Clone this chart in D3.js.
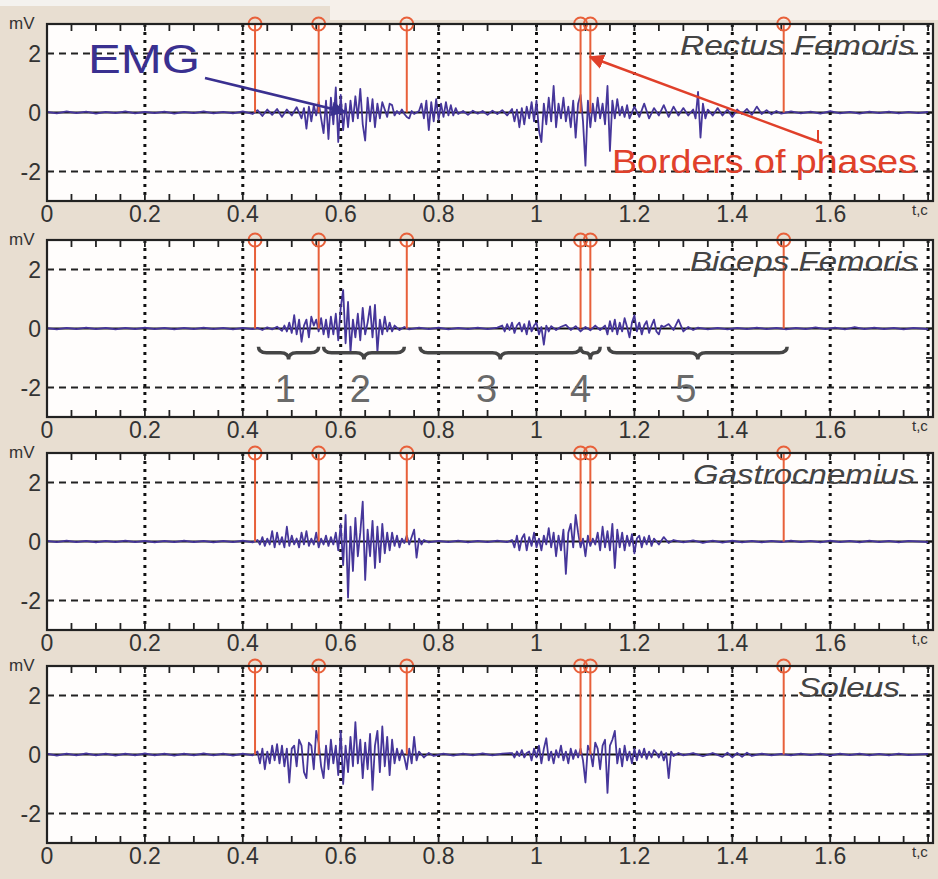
<!DOCTYPE html>
<html lang="en">
  <head>
    <meta charset="UTF-8" />
    <title>EMG phases</title>
    <script src="https://d3js.org/d3.v7.min.js"></script>
    <style>
      body {
        margin: 0;
        background: #e8ded1;
      }
      svg {
        display: block;
        font-family: "Liberation Sans", Arial, sans-serif;
      }
    </style>
  </head>
  <body>
    <div id="chart"></div>
    <script>
      // phase borders (s)
      const phaseBorders = [0.425, 0.555, 0.735, 1.09, 1.11, 1.505];
      const xTicks = [0, 0.2, 0.4, 0.6, 0.8, 1, 1.2, 1.4, 1.6];
      const yTicks = [2, 0, -2];
      const muscles = ["Rectus Femoris", "Biceps  Femoris", "Gastrocnemius", "Soleus"];

      // EMG traces, [t, mV]
      const rectusFemoris = [
        [0, 0.02], [0.02, -0.03], [0.04, 0.04], [0.06, -0.02], [0.08, 0.03], [0.1, -0.04], [0.12, 0.02], [0.14, -0.02],
        [0.16, 0.04], [0.18, -0.03], [0.2, 0.02], [0.22, -0.02], [0.24, 0.03], [0.26, -0.04], [0.28, 0.02], [0.3, -0.02],
        [0.32, 0.04], [0.34, -0.03], [0.36, 0.02], [0.38, -0.03], [0.4, 0.04], [0.42, -0.05],
        [0.43, 0.08], [0.44, -0.12], [0.45, 0.1], [0.46, -0.08], [0.47, 0.12], [0.48, -0.15], [0.49, 0.1], [0.5, -0.1],
        [0.51, 0.18], [0.52, -0.2], [0.525, 0.15], [0.53, -0.55], [0.535, 0.2], [0.54, -0.3], [0.545, 0.25], [0.55, -0.1],
        [0.555, 0.35], [0.56, -0.2], [0.565, -0.7], [0.57, 0.4], [0.575, -0.9], [0.58, 0.5], [0.585, -0.4], [0.59, 0.85],
        [0.595, -1.0], [0.6, 0.6], [0.605, -0.6], [0.61, 0.3], [0.615, -0.5], [0.62, 0.4], [0.625, -0.3], [0.63, 0.55],
        [0.635, -0.2], [0.64, 0.8], [0.645, -0.4], [0.65, -0.95], [0.655, 0.5], [0.66, -0.3], [0.665, 0.45], [0.67, -0.5],
        [0.675, 0.3], [0.68, -0.2], [0.685, 0.35], [0.69, 0.1], [0.695, -0.15], [0.7, 0.3], [0.705, 0.25], [0.71, -0.1],
        [0.715, 0.05], [0.72, -0.05], [0.725, 0.1], [0.73, -0.05], [0.735, -0.15], [0.74, -0.2], [0.745, 0.05], [0.75, -0.05],
        [0.76, 0.05], [0.765, 0.3], [0.77, -0.2], [0.775, 0.4], [0.78, -0.6], [0.785, 0.35], [0.79, -0.3], [0.795, 0.45],
        [0.8, -0.25], [0.805, 0.3], [0.81, -0.15], [0.815, 0.35], [0.82, -0.1], [0.825, 0.25], [0.83, -0.1], [0.835, 0.15],
        [0.84, -0.05], [0.85, 0.05], [0.86, -0.08], [0.87, 0.06], [0.88, -0.04], [0.89, 0.05], [0.9, -0.08], [0.91, 0.06],
        [0.92, -0.05], [0.93, 0.08], [0.94, -0.1], [0.95, 0.12], [0.955, -0.3], [0.96, 0.1], [0.965, -0.5], [0.97, 0.15],
        [0.975, -0.4], [0.98, 0.2], [0.985, -0.2], [0.99, 0.35], [0.995, -0.3], [1.0, 0.4], [1.005, -0.6], [1.01, -1.0],
        [1.015, 0.3], [1.02, -0.4], [1.025, 0.5], [1.03, -0.3], [1.035, 0.9], [1.04, -0.5], [1.045, 0.3], [1.05, -0.2],
        [1.055, 0.5], [1.06, -0.3], [1.065, 0.2], [1.07, -0.5], [1.075, 0.4], [1.08, -0.85], [1.085, 0.3], [1.09, 0.6],
        [1.095, -0.3], [1.1, -1.8], [1.105, 0.4], [1.11, -0.5], [1.115, 0.3], [1.12, -0.3], [1.125, 0.5], [1.13, -0.2],
        [1.135, 0.3], [1.14, -0.4], [1.145, 0.9], [1.15, -1.3], [1.155, 0.4], [1.16, -0.2], [1.165, 0.45], [1.17, -0.1],
        [1.175, 0.2], [1.18, -0.15], [1.185, 0.25], [1.19, -0.2], [1.2, 0.2], [1.21, -0.15], [1.22, 0.3], [1.23, -0.2],
        [1.24, 0.15], [1.25, -0.1], [1.26, 0.25], [1.27, -0.15], [1.28, 0.2], [1.29, -0.1], [1.3, 0.15], [1.31, -0.1],
        [1.32, 0.1], [1.325, -0.2], [1.33, 0.7], [1.335, -0.85], [1.34, 0.3], [1.345, -0.2], [1.35, 0.1], [1.36, -0.1],
        [1.37, 0.15], [1.38, -0.1], [1.39, 0.1], [1.4, -0.15], [1.41, 0.1], [1.42, -0.05], [1.43, 0.12], [1.44, -0.08],
        [1.45, 0.2], [1.46, -0.05], [1.47, 0.08], [1.48, -0.06], [1.49, 0.05], [1.5, -0.04], [1.52, 0.04], [1.54, -0.03],
        [1.56, 0.03], [1.58, -0.04], [1.6, 0.05], [1.62, -0.03], [1.64, 0.02], [1.66, -0.04], [1.68, 0.03], [1.7, -0.02],
        [1.72, 0.03], [1.74, -0.03], [1.76, 0.02], [1.78, -0.02], [1.8, 0.02]
      ];

      const bicepsFemoris = [
        [0, 0.01], [0.02, -0.03], [0.04, 0.02], [0.06, -0.02], [0.08, 0.03], [0.1, -0.02], [0.12, 0.02], [0.14, -0.03],
        [0.16, 0.02], [0.18, -0.02], [0.2, 0.03], [0.22, -0.02], [0.24, 0.02], [0.26, -0.03], [0.28, 0.02], [0.3, -0.02],
        [0.32, 0.03], [0.34, -0.02], [0.36, 0.02], [0.38, -0.03], [0.4, 0.02], [0.42, -0.02],
        [0.43, 0.02], [0.44, -0.05], [0.45, 0.04], [0.46, -0.03], [0.47, 0.06], [0.48, -0.08], [0.485, 0.1], [0.49, -0.1],
        [0.495, 0.2], [0.5, -0.15], [0.505, 0.45], [0.51, -0.2], [0.515, 0.3], [0.52, -0.45], [0.525, 0.1], [0.53, 0.3],
        [0.535, -0.3], [0.54, 0.4], [0.545, 0.1], [0.55, 0.3], [0.555, -0.1], [0.56, 0.35], [0.565, -0.2], [0.57, 0.3],
        [0.575, -0.3], [0.58, 0.4], [0.585, -0.2], [0.59, 0.5], [0.595, -0.4], [0.6, 0.7], [0.605, 1.3], [0.61, -0.5],
        [0.615, 0.9], [0.62, -0.8], [0.625, 0.3], [0.63, -0.3], [0.635, 0.5], [0.64, -0.4], [0.645, 0.7], [0.65, -0.2],
        [0.655, 0.2], [0.66, 0.75], [0.665, -0.3], [0.67, 0.8], [0.675, -0.8], [0.68, 0.3], [0.685, -0.2], [0.69, 0.4],
        [0.695, -0.1], [0.7, 0.2], [0.705, -0.1], [0.71, 0.1], [0.72, -0.05], [0.73, 0.05], [0.74, -0.03], [0.76, 0.03],
        [0.78, -0.02], [0.8, 0.03], [0.82, -0.03], [0.84, 0.02], [0.86, -0.02], [0.88, 0.03], [0.9, -0.02], [0.92, 0.03],
        [0.93, 0.1], [0.935, -0.1], [0.94, 0.15], [0.945, -0.05], [0.95, 0.2], [0.955, -0.15], [0.96, 0.1], [0.965, 0.2],
        [0.97, -0.1], [0.975, 0.15], [0.98, -0.2], [0.985, 0.25], [0.99, -0.1], [0.995, 0.1], [1.0, 0.2], [1.005, -0.2],
        [1.01, 0.05], [1.015, -0.55], [1.02, 0.1], [1.025, -0.1], [1.03, 0.08], [1.04, -0.05], [1.05, 0.06], [1.06, 0.12],
        [1.07, -0.05], [1.08, 0.08], [1.09, -0.1], [1.1, 0.05], [1.11, -0.06], [1.12, 0.1], [1.13, -0.05], [1.14, 0.1],
        [1.145, -0.2], [1.15, 0.25], [1.155, -0.1], [1.16, 0.3], [1.165, -0.2], [1.17, 0.2], [1.175, -0.1], [1.18, 0.35],
        [1.185, 0.05], [1.19, -0.3], [1.195, 0.2], [1.2, 0.45], [1.205, -0.1], [1.21, 0.2], [1.215, -0.2], [1.22, 0.1],
        [1.225, 0.25], [1.23, -0.15], [1.235, 0.1], [1.24, 0.3], [1.245, -0.1], [1.25, -0.2], [1.255, 0.1], [1.26, 0.05],
        [1.27, 0.15], [1.28, -0.05], [1.29, 0.3], [1.295, 0.1], [1.3, -0.1], [1.31, 0.05], [1.32, -0.05], [1.33, 0.03],
        [1.35, -0.03], [1.37, 0.02], [1.39, -0.03], [1.41, 0.02], [1.43, -0.02], [1.45, 0.03], [1.47, -0.02], [1.49, 0.02],
        [1.51, -0.03], [1.53, 0.02], [1.55, -0.02], [1.57, 0.04], [1.59, -0.02], [1.61, 0.03], [1.63, -0.03], [1.65, 0.05],
        [1.67, -0.02], [1.69, 0.03], [1.71, -0.02], [1.73, 0.02], [1.75, -0.03], [1.77, 0.02], [1.8, -0.02]
      ];

      const gastrocnemius = [
        [0, 0.02], [0.02, -0.02], [0.04, 0.03], [0.06, -0.02], [0.08, 0.02], [0.1, -0.03], [0.12, 0.02], [0.14, -0.02],
        [0.16, 0.03], [0.18, -0.02], [0.2, 0.02], [0.22, -0.03], [0.24, 0.02], [0.26, -0.02], [0.28, 0.03], [0.3, -0.02],
        [0.32, 0.02], [0.34, -0.03], [0.36, 0.02], [0.38, -0.02], [0.4, 0.03], [0.42, -0.03],
        [0.43, 0.05], [0.435, -0.1], [0.44, 0.15], [0.445, -0.15], [0.45, 0.1], [0.455, -0.1], [0.46, 0.35], [0.465, -0.2],
        [0.47, 0.3], [0.475, -0.1], [0.48, 0.15], [0.485, -0.2], [0.49, 0.5], [0.495, -0.15], [0.5, 0.2], [0.505, -0.1],
        [0.51, 0.1], [0.515, -0.2], [0.52, 0.3], [0.525, -0.1], [0.53, 0.35], [0.535, -0.15], [0.54, 0.1], [0.545, -0.1],
        [0.55, 0.3], [0.555, -0.2], [0.56, 0.1], [0.565, -0.1], [0.57, 0.2], [0.575, -0.15], [0.58, 0.15], [0.585, -0.1],
        [0.59, 0.3], [0.595, -0.3], [0.6, 0.6], [0.605, -0.8], [0.61, 0.9], [0.615, -1.9], [0.62, 0.5], [0.625, -1.0],
        [0.63, 0.8], [0.635, -0.5], [0.64, 0.3], [0.645, 1.35], [0.65, -1.3], [0.655, 0.4], [0.66, -0.5], [0.665, 0.7],
        [0.67, -0.9], [0.675, 0.5], [0.68, -0.7], [0.685, 0.6], [0.69, -0.4], [0.695, 0.3], [0.7, -0.3], [0.705, 0.3],
        [0.71, -0.15], [0.715, 0.2], [0.72, -0.2], [0.725, 0.1], [0.73, -0.05], [0.735, 0.2], [0.74, -0.1], [0.745, 0.15],
        [0.75, 0.4], [0.755, -0.55], [0.76, 0.1], [0.765, -0.1], [0.77, 0.05], [0.78, -0.03], [0.8, 0.02], [0.82, -0.02],
        [0.84, 0.03], [0.86, -0.03], [0.88, 0.02], [0.9, -0.02], [0.92, 0.03], [0.94, -0.02],
        [0.95, 0.05], [0.955, -0.2], [0.96, 0.2], [0.965, -0.3], [0.97, 0.1], [0.975, 0.25], [0.98, -0.3], [0.985, 0.15],
        [0.99, -0.15], [0.995, 0.3], [1.0, -0.2], [1.005, 0.1], [1.01, -0.3], [1.015, 0.2], [1.02, -0.1], [1.025, 0.45],
        [1.03, -0.2], [1.035, 0.3], [1.04, -0.5], [1.045, 0.2], [1.05, -0.3], [1.055, 0.4], [1.06, -1.1], [1.065, 0.3],
        [1.07, 0.6], [1.075, -0.2], [1.08, 0.9], [1.085, 0.3], [1.09, -0.2], [1.095, 0.1], [1.1, -0.5], [1.105, 0.2],
        [1.11, -0.15], [1.115, 0.1], [1.12, -0.1], [1.125, 0.3], [1.13, -0.3], [1.135, 0.5], [1.14, -0.2], [1.145, 0.35],
        [1.15, -0.3], [1.155, 0.6], [1.16, -0.9], [1.165, 0.4], [1.17, -0.2], [1.175, 0.3], [1.18, -0.3], [1.185, 0.2],
        [1.19, -0.15], [1.195, 0.25], [1.2, -0.4], [1.205, 0.1], [1.21, 0.2], [1.215, -0.2], [1.22, 0.15], [1.225, -0.1],
        [1.23, 0.2], [1.235, -0.15], [1.24, 0.1], [1.25, -0.1], [1.26, 0.15], [1.27, -0.05], [1.28, 0.05], [1.3, -0.03],
        [1.32, 0.04], [1.34, -0.05], [1.36, 0.03], [1.38, -0.04], [1.4, 0.03], [1.42, -0.03], [1.44, 0.02], [1.46, -0.03],
        [1.48, 0.02], [1.5, -0.02], [1.52, 0.03], [1.54, -0.02], [1.56, 0.02], [1.58, -0.03], [1.6, 0.03], [1.62, -0.02],
        [1.64, 0.02], [1.66, -0.03], [1.68, 0.03], [1.7, -0.02], [1.72, 0.02], [1.74, -0.03], [1.76, 0.02], [1.8, -0.02]
      ];

      const soleus = [
        [0, 0.03], [0.02, -0.04], [0.04, 0.03], [0.06, -0.03], [0.08, 0.04], [0.1, -0.03], [0.12, 0.03], [0.14, -0.04],
        [0.16, 0.03], [0.18, -0.03], [0.2, 0.04], [0.22, -0.03], [0.24, 0.03], [0.26, -0.04], [0.28, 0.03], [0.3, -0.03],
        [0.32, 0.04], [0.34, -0.03], [0.36, 0.03], [0.38, -0.04], [0.4, 0.03], [0.42, -0.03],
        [0.43, 0.1], [0.435, -0.3], [0.44, 0.2], [0.445, -0.5], [0.45, 0.1], [0.455, -0.3], [0.46, 0.3], [0.465, -0.2],
        [0.47, 0.35], [0.475, -0.3], [0.48, 0.3], [0.485, -0.4], [0.49, 0.2], [0.495, -0.95], [0.5, 0.2], [0.505, 0.3],
        [0.51, -0.4], [0.515, 0.5], [0.52, 0.3], [0.525, -0.6], [0.53, -0.8], [0.535, 0.4], [0.54, 0.3], [0.545, -0.5],
        [0.55, 0.8], [0.555, 0.4], [0.56, -0.4], [0.565, -0.8], [0.57, 0.3], [0.575, -0.5], [0.58, 0.5], [0.585, -0.3],
        [0.59, 0.3], [0.595, -0.7], [0.6, 0.8], [0.605, -1.0], [0.61, 0.3], [0.615, -0.6], [0.62, 0.6], [0.625, -0.4],
        [0.63, 1.1], [0.635, -0.3], [0.64, 0.5], [0.645, -0.8], [0.65, 0.4], [0.655, -0.5], [0.66, 0.7], [0.665, -1.2],
        [0.67, 0.3], [0.675, 0.8], [0.68, -0.6], [0.685, 0.95], [0.69, -0.4], [0.695, 0.6], [0.7, -0.7], [0.705, 0.5],
        [0.71, -0.3], [0.715, 0.2], [0.72, -0.2], [0.725, 0.15], [0.73, -0.1], [0.735, -0.5], [0.74, 0.2], [0.745, -0.3],
        [0.75, 0.6], [0.755, -0.2], [0.76, 0.1], [0.77, -0.1], [0.78, 0.05], [0.79, -0.05], [0.81, 0.03], [0.83, -0.04],
        [0.85, 0.03], [0.87, -0.03], [0.89, 0.04], [0.91, -0.03], [0.93, 0.03],
        [0.95, 0.05], [0.955, -0.1], [0.96, 0.1], [0.965, -0.05], [0.97, 0.15], [0.975, -0.1], [0.98, 0.05], [0.985, 0.1],
        [0.99, -0.2], [0.995, 0.2], [1.0, -0.1], [1.005, 0.3], [1.01, -0.3], [1.015, 0.2], [1.02, 0.55], [1.025, -0.2],
        [1.03, 0.1], [1.035, -0.3], [1.04, 0.15], [1.045, -0.1], [1.05, 0.3], [1.055, -0.2], [1.06, 0.1], [1.065, -0.3],
        [1.07, 0.2], [1.075, -0.15], [1.08, 0.15], [1.085, -0.1], [1.09, 0.2], [1.095, -0.2], [1.1, -0.95], [1.105, 0.3],
        [1.11, 0.1], [1.115, -0.4], [1.12, 0.4], [1.125, 0.2], [1.13, -0.5], [1.135, 0.3], [1.14, 0.5], [1.145, -1.3],
        [1.15, 0.3], [1.155, 0.5], [1.16, 0.8], [1.165, -0.3], [1.17, 0.2], [1.175, -0.4], [1.18, 0.3], [1.185, -0.2],
        [1.19, 0.1], [1.195, -0.3], [1.2, 0.2], [1.205, -0.2], [1.21, 0.15], [1.215, -0.1], [1.22, 0.2], [1.225, -0.15],
        [1.23, 0.1], [1.235, -0.1], [1.24, 0.15], [1.245, 0.05], [1.25, -0.1], [1.255, 0.1], [1.26, -0.2], [1.265, 0.05],
        [1.27, -0.8], [1.275, 0.1], [1.28, -0.05], [1.29, 0.05], [1.3, -0.03], [1.32, 0.05], [1.34, -0.06], [1.36, 0.05],
        [1.38, -0.08], [1.39, 0.06], [1.4, -0.1], [1.41, 0.05], [1.42, -0.08], [1.43, 0.06], [1.44, -0.05], [1.46, 0.03],
        [1.48, -0.03], [1.5, 0.02], [1.52, -0.03], [1.54, 0.03], [1.56, -0.02], [1.58, 0.03], [1.6, -0.04], [1.62, 0.03],
        [1.64, -0.02], [1.66, 0.03], [1.68, -0.03], [1.7, 0.02], [1.72, -0.03], [1.74, 0.03], [1.76, -0.02], [1.8, 0.02]
      ];

      // phase brackets on the Biceps Femoris panel
      const phaseNames = ["1", "2", "3", "4", "5"];
      const phaseStart = [0.432, 0.565, 0.762, 1.09, 1.147];
      const phaseEnd = [0.555, 0.73, 1.09, 1.13, 1.512];
      const phaseLabelAt = [0.487, 0.64, 0.898, 1.09, 1.305];

      const traces = [rectusFemoris, bicepsFemoris, gastrocnemius, soleus];

      const width = 938;
      const height = 879;
      const panelTop = [24, 240, 453, 666];
      const panelH = 177;
      const left = 47;
      const right = 933;

      const emgColor = "#46369a";
      const borderColor = "#e8603a";

      const svg = d3
        .select("#chart")
        .append("svg")
        .attr("width", width)
        .attr("height", height);

      svg.append("rect").attr("width", width).attr("height", height).attr("fill", "#e8ded1");
      svg.append("rect").attr("width", 330).attr("height", 6).attr("fill", "#f4f2ef");
      svg.append("rect").attr("x", 330).attr("width", 608).attr("height", 20).attr("fill", "#f6f0ea");

      const x = d3.scaleLinear().domain([0, 1.81]).range([left, right]);

      // label box sizes
      const muscleRight = [915, 918, 915, 900];
      const muscleWidth = [235, 228, 222, 102];

      traces.forEach((trace, i) => {
        const top = panelTop[i];
        const y = d3.scaleLinear().domain([-3, 3]).range([top + panelH, top]);
        const g = svg.append("g");

        g.append("rect")
          .attr("x", left)
          .attr("y", top)
          .attr("width", right - left)
          .attr("height", panelH)
          .attr("fill", "#fffdfc");

        // vertical dotted grid
        g.selectAll(".vgrid")
          .data(xTicks.slice(1).concat([1.8]))
          .join("line")
          .attr("x1", (d) => x(d))
          .attr("x2", (d) => x(d))
          .attr("y1", top)
          .attr("y2", top + panelH)
          .attr("stroke", "#111")
          .attr("stroke-width", 3)
          .attr("stroke-dasharray", "3,5");

        // horizontal dashed grid
        g.selectAll(".hgrid")
          .data([2, -2])
          .join("line")
          .attr("x1", left)
          .attr("x2", right)
          .attr("y1", (d) => y(d))
          .attr("y2", (d) => y(d))
          .attr("stroke", "#222")
          .attr("stroke-width", 1.8)
          .attr("stroke-dasharray", "7,5");

        // minor ticks top / bottom
        const minor = d3.range(0, 1.81, 0.05);
        g.selectAll(".tb")
          .data(minor)
          .join("line")
          .attr("x1", (d) => x(d))
          .attr("x2", (d) => x(d))
          .attr("y1", top + panelH)
          .attr("y2", top + panelH - 7)
          .attr("stroke", "#222")
          .attr("stroke-width", 1.8);
        g.selectAll(".tt")
          .data(minor)
          .join("line")
          .attr("x1", (d) => x(d))
          .attr("x2", (d) => x(d))
          .attr("y1", top)
          .attr("y2", top + 7)
          .attr("stroke", "#222")
          .attr("stroke-width", 1.8);
        // side ticks
        g.selectAll(".tr")
          .data([-3, -2, -1, 0, 1, 2, 3])
          .join("line")
          .attr("x1", right)
          .attr("x2", right - 7)
          .attr("y1", (d) => y(d))
          .attr("y2", (d) => y(d))
          .attr("stroke", "#222")
          .attr("stroke-width", 1.8);

        // zero line
        g.append("line")
          .attr("x1", left)
          .attr("x2", right)
          .attr("y1", y(0))
          .attr("y2", y(0))
          .attr("stroke", "#111")
          .attr("stroke-width", 1.8);

        // EMG trace
        g.append("path")
          .datum(trace)
          .attr("fill", "none")
          .attr("stroke", emgColor)
          .attr("stroke-width", 1.8)
          .attr("stroke-linejoin", "round")
          .attr("d", d3.line().x((d) => x(d[0])).y((d) => y(d[1])));

        // phase border stems
        g.selectAll(".stem")
          .data(phaseBorders)
          .join("line")
          .attr("x1", (d) => x(d))
          .attr("x2", (d) => x(d))
          .attr("y1", y(0))
          .attr("y2", y(3))
          .attr("stroke", borderColor)
          .attr("stroke-width", 2);
        g.selectAll(".mark")
          .data(phaseBorders)
          .join("circle")
          .attr("cx", (d) => x(d))
          .attr("cy", y(3))
          .attr("r", 6.5)
          .attr("fill", "none")
          .attr("stroke", borderColor)
          .attr("stroke-width", 2);

        // frame
        g.append("rect")
          .attr("x", left)
          .attr("y", top)
          .attr("width", right - left)
          .attr("height", panelH)
          .attr("fill", "none")
          .attr("stroke", "#222")
          .attr("stroke-width", 2.2);

        // x tick labels
        g.selectAll(".xl")
          .data(xTicks)
          .join("text")
          .attr("x", (d) => x(d))
          .attr("y", top + panelH + 21)
          .attr("text-anchor", "middle")
          .attr("font-size", 23)
          .attr("fill", "#333")
          .text((d) => d3.format("~g")(d));

        g.append("text")
          .attr("x", 912)
          .attr("y", top + panelH + 14)
          .attr("font-size", 15)
          .attr("fill", "#333")
          .text("t,c");

        // y tick labels
        g.selectAll(".yl")
          .data(yTicks)
          .join("text")
          .attr("x", 41)
          .attr("y", (d) => y(d) + 8)
          .attr("text-anchor", "end")
          .attr("font-size", 23)
          .attr("fill", "#333")
          .text((d) => d);

        g.append("text")
          .attr("x", 9)
          .attr("y", top + 5)
          .attr("font-size", 17)
          .attr("fill", "#333")
          .text("mV");

        // muscle name
        g.append("text")
          .attr("x", muscleRight[i] - muscleWidth[i])
          .attr("y", top + 31)
          .attr("font-size", 28)
          .attr("font-style", "italic")
          .attr("fill", "#444")
          .attr("textLength", muscleWidth[i])
          .attr("lengthAdjust", "spacingAndGlyphs")
          .text(muscles[i]);

        if (i === 1) {
          // phase brackets
          const b0 = y(-0.62);
          const b1 = y(-0.82);
          const b2 = y(-1.05);
          phaseStart.forEach((s, k) => {
            const x1 = x(s);
            const x2 = x(phaseEnd[k]);
            const mid = (x1 + x2) / 2;
            const r = Math.min(8, (x2 - x1) / 4);
            const p = d3.path();
            p.moveTo(x1, b0);
            p.quadraticCurveTo(x1, b1, x1 + r, b1);
            p.lineTo(mid - r, b1);
            p.quadraticCurveTo(mid, b1, mid, b2);
            p.quadraticCurveTo(mid, b1, mid + r, b1);
            p.lineTo(x2 - r, b1);
            p.quadraticCurveTo(x2, b1, x2, b0);
            g.append("path")
              .attr("d", p.toString())
              .attr("fill", "none")
              .attr("stroke", "#454545")
              .attr("stroke-width", 3.5);
          });
          g.selectAll(".pl")
            .data(phaseNames)
            .join("text")
            .attr("x", (d, k) => x(phaseLabelAt[k]))
            .attr("y", y(-2) + 14)
            .attr("text-anchor", "middle")
            .attr("font-size", 38)
            .attr("fill", "#6a6a6a")
            .text((d) => d);
        }
      });

      // annotations
      const defs = svg.append("defs");
      [["arrBlue", "#3a3090"], ["arrRed", "#e0402a"]].forEach(([id, c]) => {
        defs.append("marker")
          .attr("id", id)
          .attr("viewBox", "0 0 10 10")
          .attr("refX", 9)
          .attr("refY", 5)
          .attr("markerWidth", 6)
          .attr("markerHeight", 6)
          .attr("orient", "auto")
          .append("path")
          .attr("d", "M0,0 L10,5 L0,10 z")
          .attr("fill", c);
      });

      svg.append("text")
        .attr("x", 88)
        .attr("y", 73)
        .attr("font-size", 40)
        .attr("fill", "#3a3090")
        .attr("textLength", 112)
        .attr("lengthAdjust", "spacingAndGlyphs")
        .text("EMG");
      svg.append("line")
        .attr("x1", 205)
        .attr("y1", 78)
        .attr("x2", 345)
        .attr("y2", 112)
        .attr("stroke", "#3a3090")
        .attr("stroke-width", 2.5)
        .attr("marker-end", "url(#arrBlue)");

      svg.append("text")
        .attr("x", 612)
        .attr("y", 173)
        .attr("font-size", 33)
        .attr("fill", "#e0402a")
        .attr("textLength", 305)
        .attr("lengthAdjust", "spacingAndGlyphs")
        .text("Borders of phases");
      svg.append("line")
        .attr("x1", 822)
        .attr("y1", 143)
        .attr("x2", 590)
        .attr("y2", 57)
        .attr("stroke", "#e0402a")
        .attr("stroke-width", 2.5)
        .attr("marker-end", "url(#arrRed)");
      svg.append("line")
        .attr("x1", 818)
        .attr("y1", 130)
        .attr("x2", 818)
        .attr("y2", 143)
        .attr("stroke", "#e0402a")
        .attr("stroke-width", 2);
    </script>
  </body>
</html>
